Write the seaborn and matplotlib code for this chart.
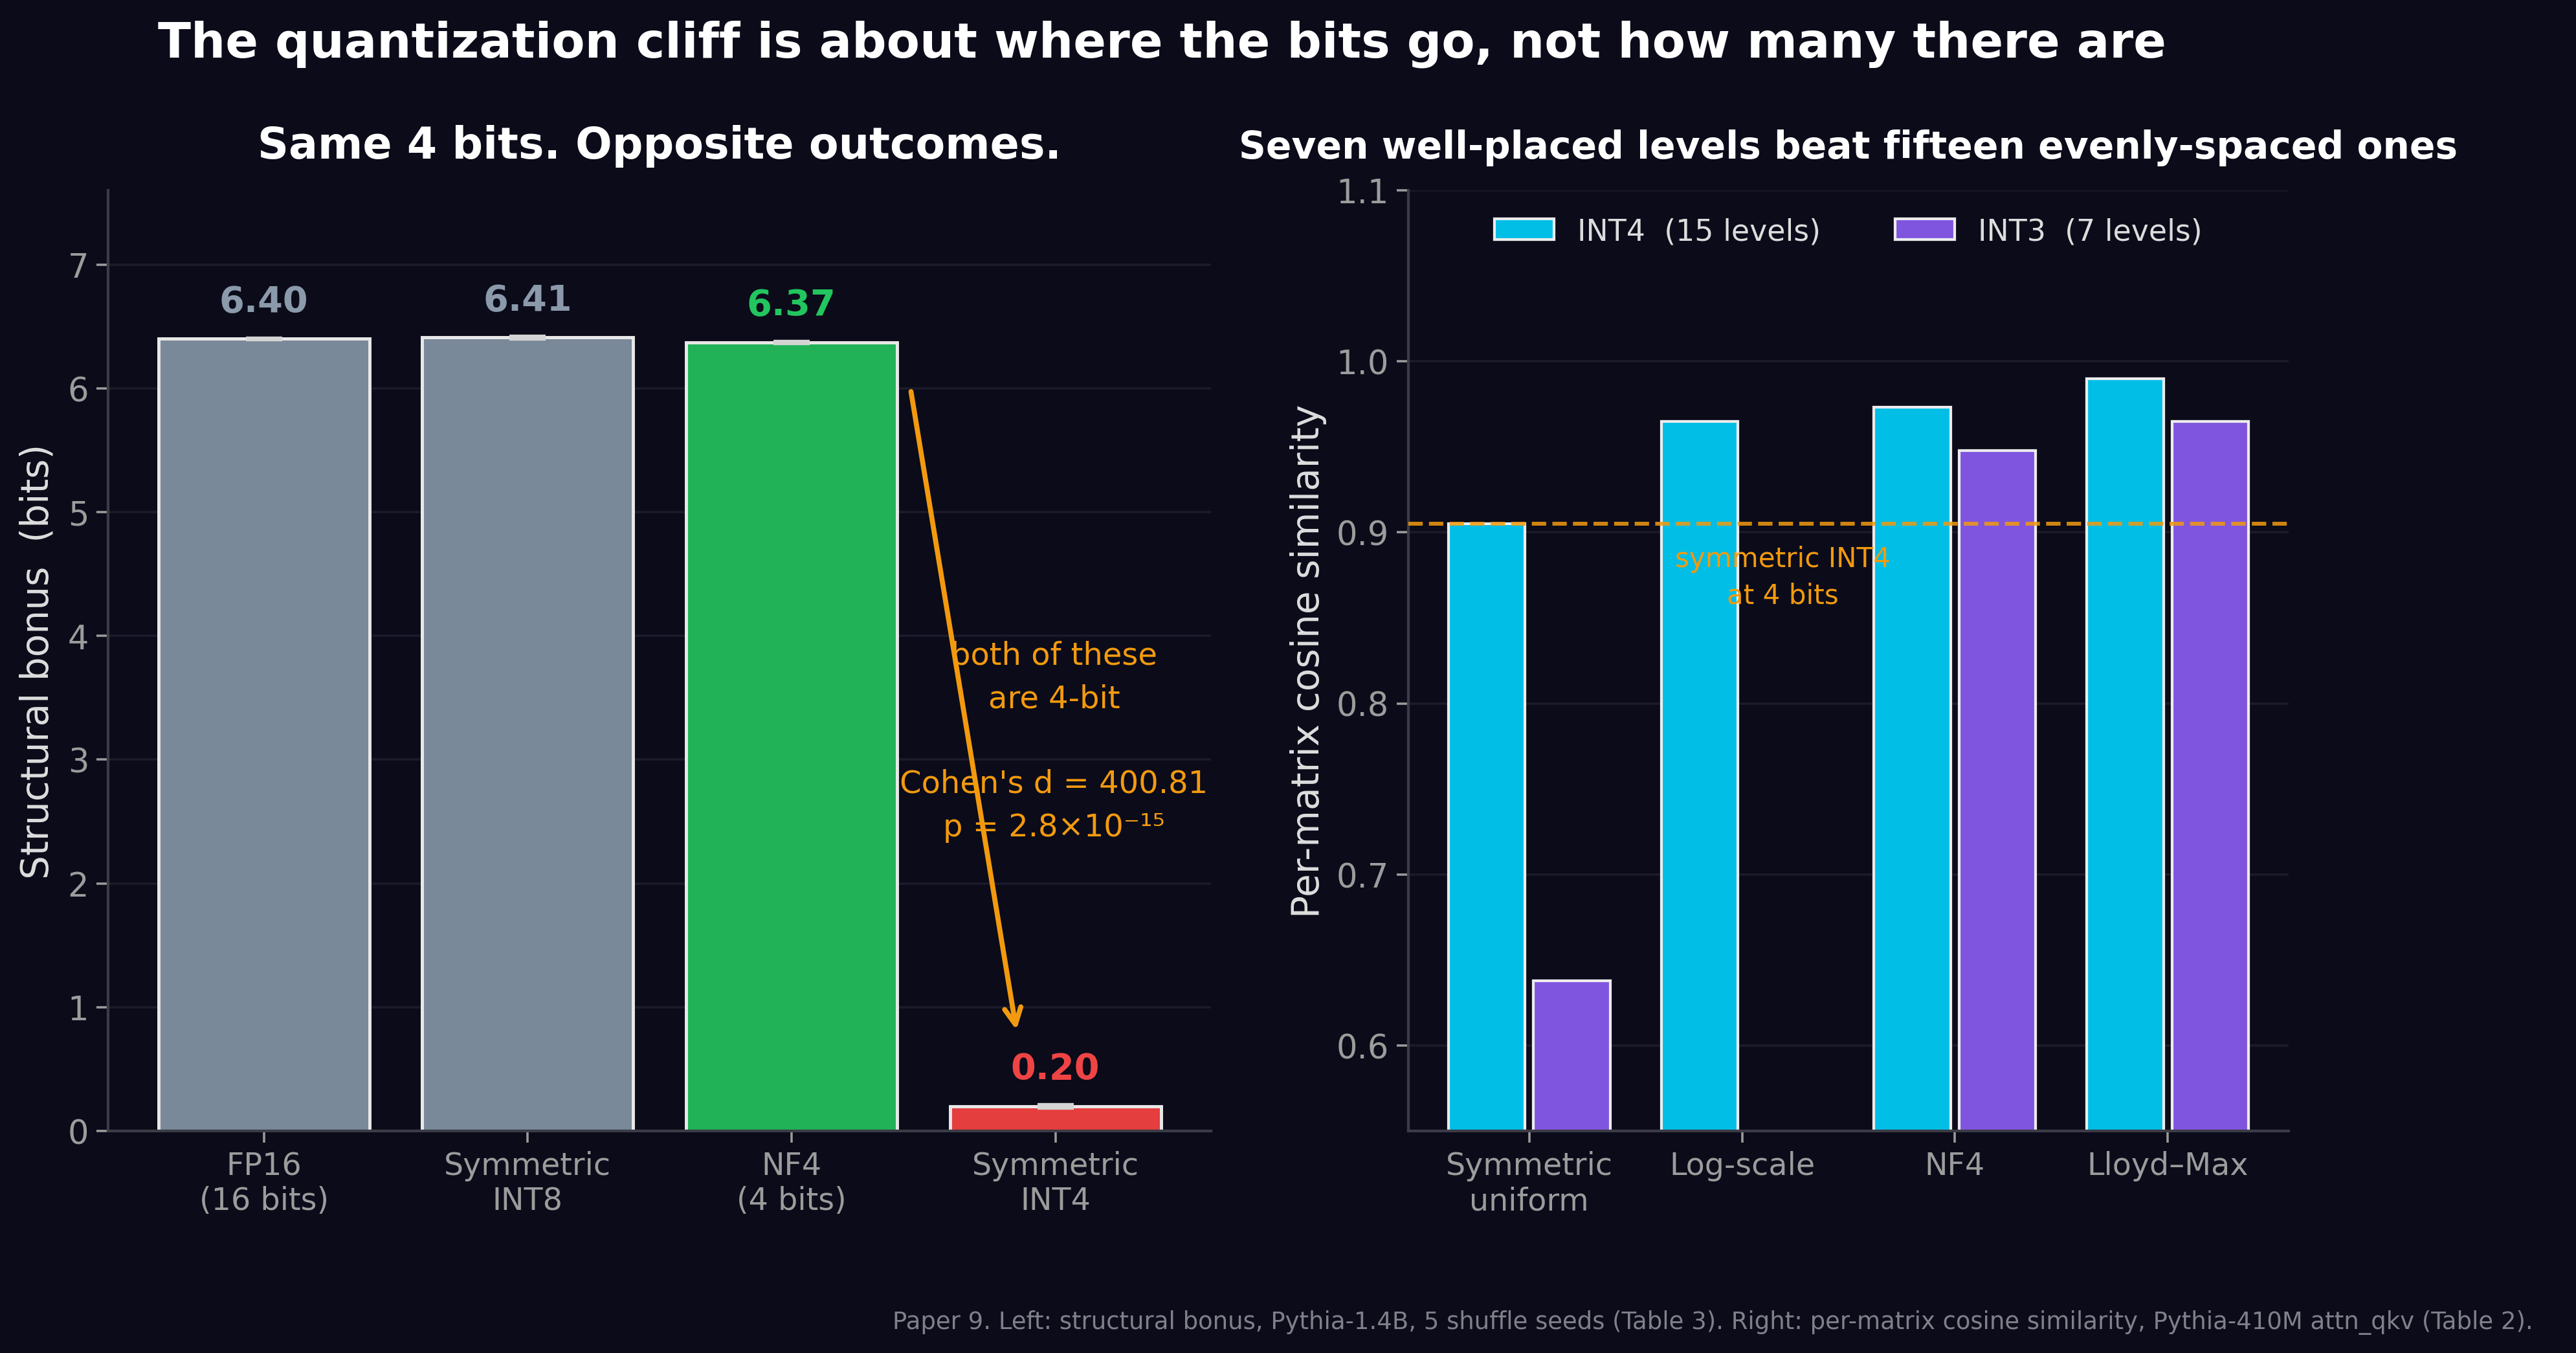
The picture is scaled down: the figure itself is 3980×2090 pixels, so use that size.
import seaborn as sns
import matplotlib.pyplot as plt
import numpy as np
import pandas as pd

# left panel: structural bonus (bits), Pythia-1.4B
left_labels = ["FP16\n(16 bits)", "Symmetric\nINT8", "NF4\n(4 bits)", "Symmetric\nINT4"]
left_values = [6.40, 6.41, 6.37, 0.20]
left_sd = [0.004, 0.006, 0.004, 0.009]
left_colors = ["#7a8999", "#7a8999", "#21b257", "#e53e3e"]
left_text_colors = ["#8b9aab", "#8b9aab", "#22c55e", "#ef4444"]

# right panel: per-matrix cosine similarity, Pythia-410M attn_qkv
methods = ["Symmetric\nuniform", "Log-scale", "NF4", "Lloyd–Max"]
int4_cos = [0.905, 0.965, 0.973, 0.990]
int3_cos = [0.638, np.nan, 0.948, 0.965]
schemes = ["INT4  (15 levels)", "INT3  (7 levels)"]
sym_int4_ref = 0.905

BG = "#0b0b1a"
GRID = "#1b1b2b"
SPINE = "#3c3c46"
TICK = "#9c9c9c"
LABEL = "#dedede"
ORANGE = "#f29a0e"

sns.set_style("dark", {"axes.facecolor": BG, "figure.facecolor": BG})
plt.rcParams['font.family'] = ['DejaVu Sans']
plt.rcParams['axes.unicode_minus'] = False

fig = plt.figure(figsize=(15.673, 8.232), dpi=254)
fig.patch.set_facecolor(BG)
ax1 = fig.add_axes([0.042, 0.164, 0.428, 0.695])
ax2 = fig.add_axes([0.5466, 0.164, 0.3416, 0.695])

# ---- left ----
sns.barplot(x=left_labels, y=left_values, hue=left_labels, palette=left_colors,
            legend=False, width=0.8, edgecolor="#e8e8e8", linewidth=1.4,
            saturation=1, ax=ax1)
ax1.errorbar(range(len(left_values)), left_values, yerr=left_sd, fmt="none",
             ecolor="#d4d4d4", elinewidth=1.8, capsize=8, capthick=1.8, zorder=5)
for i, v in enumerate(left_values):
    ax1.text(i, v + 0.16, f"{v:.2f}", ha="center", va="bottom", fontsize=15.8,
             fontweight="bold", color=left_text_colors[i])
ax1.set_xlim(-0.59, 3.59)
ax1.set_ylim(0, 7.6)
ax1.set_yticks(range(0, 8))
ax1.set_ylabel("Structural bonus  (bits)", fontsize=16.5, color=LABEL, labelpad=5)
ax1.set_title("Same 4 bits. Opposite outcomes.", fontsize=18.9, fontweight="bold",
              color="white", pad=14)

ax1.annotate("", xy=(2.855, 0.78), xytext=(2.45, 6.01),
             arrowprops=dict(arrowstyle="->", color=ORANGE, lw=2.2,
                             mutation_scale=18))
ax1.text(2.995, 3.67, "both of these\nare 4-bit", ha="center", va="center",
         fontsize=13.6, color=ORANGE, linespacing=1.55)
ax1.text(2.995, 2.63, "Cohen's d = 400.81\np = 2.8×10⁻¹⁵", ha="center",
         va="center", fontsize=13.6, color=ORANGE, linespacing=1.55)

# ---- right ----
df = pd.DataFrame({
    "method": methods * 2,
    "scheme": [schemes[0]] * 4 + [schemes[1]] * 4,
    "cos": int4_cos + int3_cos,
})
sns.barplot(data=df, x="method", y="cos", hue="scheme", hue_order=schemes,
            palette=["#00bee6", "#7f55df"], width=0.8, gap=0.1,
            edgecolor="#ececec", linewidth=1.2, saturation=1, ax=ax2)
ax2.axhline(sym_int4_ref, color=ORANGE, ls="--", lw=1.7, alpha=0.85, zorder=6)
ax2.text(1.19, 0.874, "symmetric INT4\nat 4 bits", ha="center", va="center",
         fontsize=11.9, color=ORANGE, linespacing=1.45)
ax2.set_xlim(-0.568, 3.568)
ax2.set_ylim(0.55, 1.1)
ax2.set_yticks([0.6, 0.7, 0.8, 0.9, 1.0, 1.1])
ax2.set_yticklabels([f"{t:.1f}" for t in [0.6, 0.7, 0.8, 0.9, 1.0, 1.1]])
ax2.set_ylabel("Per-matrix cosine similarity", fontsize=16.5, color=LABEL)
ax2.set_title("Seven well-placed levels beat fifteen evenly-spaced ones",
              fontsize=16.5, fontweight="bold", color="white", pad=14)
leg = ax2.legend(loc="upper center", bbox_to_anchor=(0.5, 1.0), ncol=2,
                 frameon=False, fontsize=13, labelcolor="#dcdcdc",
                 columnspacing=2.5, handlelength=2.0)

for ax in (ax1, ax2):
    ax.set_xlabel("")
    ax.set_facecolor(BG)
    ax.yaxis.grid(True, color=GRID, lw=1.0)
    ax.xaxis.grid(False)
    ax.set_axisbelow(True)
    for s in ("top", "right"):
        ax.spines[s].set_visible(False)
    for s in ("left", "bottom"):
        ax.spines[s].set_visible(True)
        ax.spines[s].set_color(SPINE)
        ax.spines[s].set_linewidth(1.2)
    ax.tick_params(axis="both", colors=TICK, labelsize=13.5, length=5,
                   width=1, left=True, bottom=True)
    ax.tick_params(axis="y", labelsize=14.5)

fig.text(0.0612, 0.985, "The quantization cliff is about where the bits go, not how many there are",
         ha="left", va="top", fontsize=21.2, fontweight="bold", color="white")
fig.text(0.983, 0.014, "Paper 9. Left: structural bonus, Pythia-1.4B, 5 shuffle seeds (Table 3). "
         "Right: per-matrix cosine similarity, Pythia-410M attn_qkv (Table 2).",
         ha="right", va="bottom", fontsize=10.5, color="#80808a")

fig.savefig("out.png", dpi=254, facecolor=BG)
